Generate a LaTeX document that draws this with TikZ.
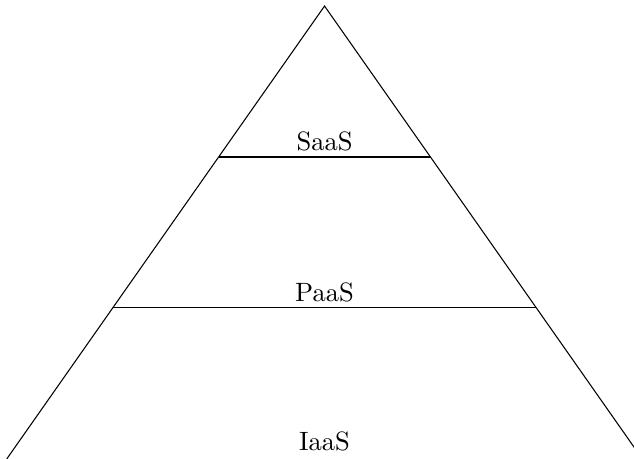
\documentclass[tikz,border=0pt]{standalone}
\usepackage{tikz}
\usetikzlibrary{calc}

\begin{document}
\begin{tikzpicture}[
    side/.style={line width=0.4pt, black},
    layer/.style={line width=0.4pt, black},
    tier/.style={font=\normalsize, inner sep=2.2pt},
  ]

  \useasboundingbox (-4.30,0) rectangle (4.10,6.08);

  % corners of the pyramid
  \coordinate (top) at (0,6);
  \coordinate (bl) at (-4.21,0);
  \coordinate (br) at (4.21,0);

  % split points, one third and two thirds up
  \coordinate (pl) at ($(bl)!1/3!(top)$);
  \coordinate (pr) at ($(br)!1/3!(top)$);
  \coordinate (sl) at ($(bl)!2/3!(top)$);
  \coordinate (sr) at ($(br)!2/3!(top)$);

  \draw[side] (bl) -- (top) -- (br);
  \draw[layer] (sl) -- (sr);
  \draw[layer] (pl) -- (pr);

  \node[tier, above] (saas) at ($(sl)!0.5!(sr)$) {SaaS};
  \node[tier, above] (paas) at ($(pl)!0.5!(pr)$) {PaaS};
  \node[tier, above] (iaas) at (0,0.02) {IaaS};

\end{tikzpicture}
\end{document}
